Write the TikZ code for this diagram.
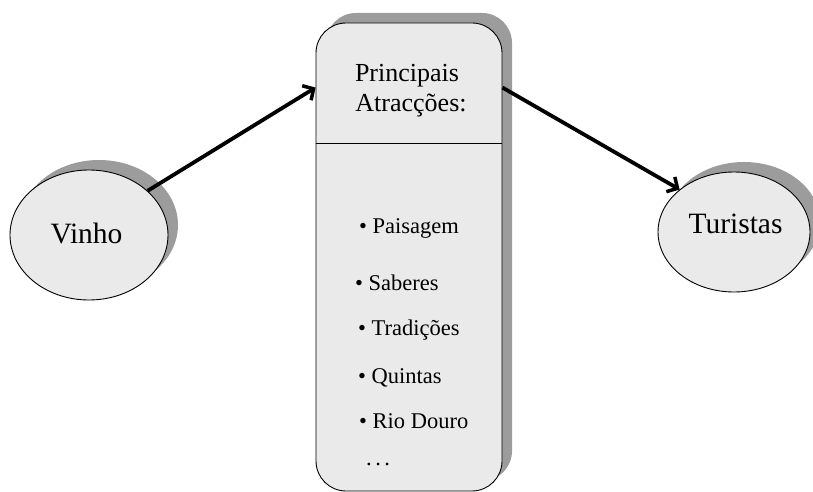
\documentclass[tikz,border=0pt]{standalone}
\usepackage{fontspec}
\setmainfont{Liberation Serif}
\usetikzlibrary{shapes.geometric,shadows,arrows.meta,calc}
\definecolor{boxfill}{HTML}{EAEAEA}
\definecolor{shadowgray}{HTML}{9C9C9C}
\begin{document}
\begin{tikzpicture}[x=1pt,y=-1pt,
  shape base/.style={draw=black,line width=0.9pt,fill=boxfill,inner sep=0pt,
    drop shadow={shadow xshift=10pt,shadow yshift=10pt,fill=shadowgray,opacity=1}},
  oval/.style={shape base,ellipse},
  panel/.style={shape base,rectangle,rounded corners=30pt},
  bigtext/.style={font=\fontsize{29.5}{34}\selectfont,anchor=base,inner sep=0pt},
  titletext/.style={font=\fontsize{26}{30}\selectfont,anchor=base,inner sep=0pt},
  itemtext/.style={font=\fontsize{22.5}{26}\selectfont,anchor=base west,inner sep=0pt},
  arr/.style={line width=3.8pt,-{Straight Barb[length=8pt,width=17pt,line width=3.5pt]}}]
\useasboundingbox (0,0) rectangle (813,492);
% shapes
\node[oval,minimum width=158pt,minimum height=130pt] (vinho) at (89,235) {};
\node[oval,minimum width=152pt,minimum height=120pt] (tur) at (734,232) {};
\node[panel,minimum width=186pt,minimum height=468pt] (box) at (409,257) {};
% divider
\coordinate (div) at (0,143);
\draw[line width=0.9pt] (box.west |- div) -- (box.east |- div);
% texts
\node[bigtext] (tv) at (86.5,243) {Vinho};
\node[bigtext] (tt) at (735.5,233) {Turistas};
\node[titletext] (t1) at (407,82) {Principais};
\node[titletext] (t2) at (411,112) {Atracções:};
\node[itemtext] (i1) at (359,233) {\textbullet\ Paisagem};
\node[itemtext] (i2) at (355,290) {\textbullet\ Saberes};
\node[itemtext] (i3) at (358,335) {\textbullet\ Tradições};
\node[itemtext] (i4) at (358,383) {\textbullet\ Quintas};
\node[itemtext] (i5) at (359,428) {\textbullet\ Rio Douro};
\node[itemtext] (i6) at (366,465) {.\hspace{3.5pt}.\hspace{3.5pt}.};
% arrows
\draw[arr] (vinho.37.6) -- ([yshift=-65pt]box.north west);
\draw[arr] ([yshift=-65pt]box.north east) -- (tur.142.8);
\end{tikzpicture}
\end{document}
